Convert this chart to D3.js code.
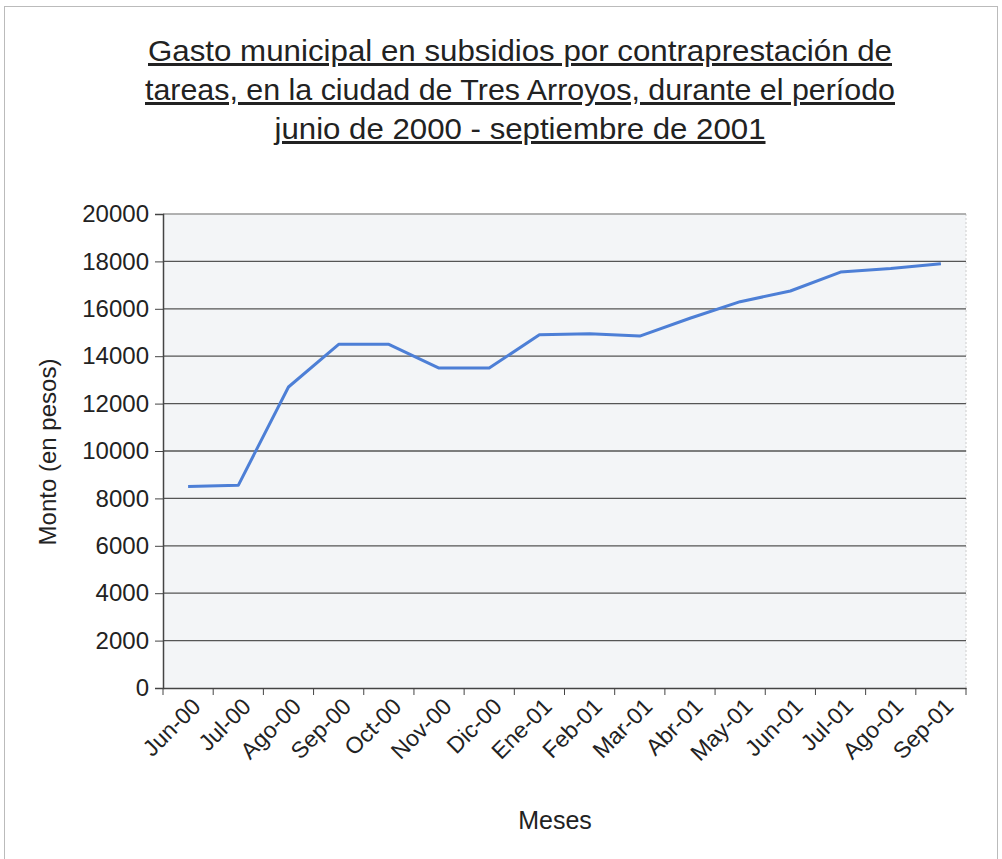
<!DOCTYPE html>
<html><head><meta charset="utf-8">
<script src="https://cdn.jsdelivr.net/npm/d3@7/dist/d3.min.js"></script>
<style>body{margin:0;background:#fff}svg{display:block}</style>
</head><body>
<svg id="c" width="1002" height="859"></svg>
<script>
const titleLines = [
  "Gasto municipal en subsidios por contraprestación de",
  "tareas, en la ciudad de Tres Arroyos, durante el período",
  "junio de 2000 - septiembre de 2001"
];
const months = ["Jun-00","Jul-00","Ago-00","Sep-00","Oct-00","Nov-00","Dic-00","Ene-01","Feb-01","Mar-01","Abr-01","May-01","Jun-01","Jul-01","Ago-01","Sep-01"];
const montos = [8500,8550,12700,14500,14500,13500,13500,14900,14950,14850,15600,16300,16750,17550,17700,17900];
const yTicks = [0,2000,4000,6000,8000,10000,12000,14000,16000,18000,20000];

const svg = d3.select("#c");
const font = "'Liberation Sans', Arial, sans-serif";
const L = 163, R = 966, T = 214, B = 688;

svg.append("rect").attr("x",4.5).attr("y",6.5).attr("width",993).attr("height",860)
  .attr("fill","none").attr("stroke","#bbb").attr("stroke-width",1);

const tl = [744, 750, 491];
titleLines.forEach((t,i)=>{
  svg.append("text").attr("x",520).attr("y",61+i*39).attr("text-anchor","middle")
    .attr("font-family",font).attr("font-size",30).attr("fill","#222")
    .attr("text-decoration","underline")
    .attr("textLength",tl[i]).attr("lengthAdjust","spacingAndGlyphs").text(t);
});

const x = d3.scaleBand().domain(months).range([L,R]);
const y = d3.scaleLinear().domain([0,20000]).range([B,T]);

svg.append("rect").attr("x",L).attr("y",T).attr("width",R-L).attr("height",B-T).attr("fill","#f3f5f7");
svg.append("line").attr("x1",R).attr("x2",R).attr("y1",T).attr("y2",B).attr("stroke","#ccc").attr("stroke-dasharray","2,2");

svg.append("g").selectAll("line").data(yTicks.filter(d=>d>0)).join("line")
  .attr("x1",L).attr("x2",R).attr("y1",d=>y(d)).attr("y2",d=>y(d))
  .attr("stroke",(d)=>d===20000?"#999":"#555").attr("stroke-width",1.3);

const ya = svg.append("g").attr("transform",`translate(${L},0)`)
  .call(d3.axisLeft(y).tickValues(yTicks).tickSize(8).tickPadding(6).tickFormat(d3.format("d")));
ya.select(".domain").attr("stroke","#444").attr("stroke-width",1.5);
ya.selectAll(".tick line").attr("stroke","#444");
ya.selectAll("text").attr("font-family",font).attr("font-size",24).attr("fill","#222");

const xa = svg.append("g").attr("transform",`translate(0,${B})`)
  .call(d3.axisBottom(x).tickSize(0).tickPadding(0));
xa.select(".domain").attr("stroke","#444").attr("stroke-width",1.5);
xa.selectAll(".tick text").attr("font-family",font).attr("font-size",23).attr("fill","#222")
  .attr("text-anchor","end").attr("dy",0).attr("y",0)
  .attr("transform","translate(14,20) rotate(-45)");
const edges = months.map(m=>x(m)).concat([R]);
svg.append("g").selectAll("line").data(edges).join("line")
  .attr("x1",d=>d).attr("x2",d=>d).attr("y1",B).attr("y2",B+7).attr("stroke","#444");

const line = d3.line().x((d,i)=>x(months[i])+x.bandwidth()/2).y(d=>y(d));
svg.append("path").datum(montos).attr("d",line).attr("fill","none")
  .attr("stroke","#4d7fd6").attr("stroke-width",3).attr("stroke-linejoin","round");

svg.append("text").attr("x",555).attr("y",829).attr("text-anchor","middle")
  .attr("font-family",font).attr("font-size",25).attr("fill","#222").text("Meses");
svg.append("text").attr("transform","translate(56,452) rotate(-90)").attr("text-anchor","middle")
  .attr("font-family",font).attr("font-size",24).attr("fill","#222").text("Monto (en pesos)");
</script>
</body></html>
